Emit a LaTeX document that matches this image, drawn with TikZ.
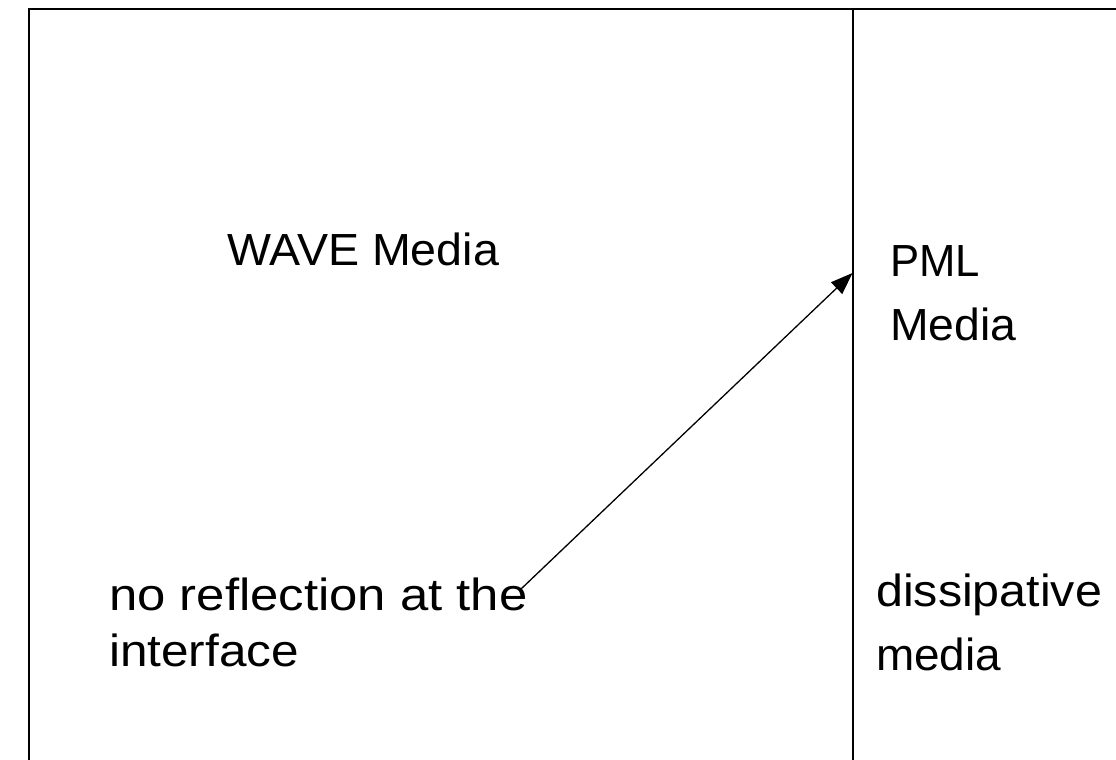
\documentclass[tikz,border=0pt]{standalone}
\usepackage{fontspec}
\usepackage{graphicx}
\setmainfont{Liberation Sans}
\usetikzlibrary{arrows.meta}
\newcommand{\sx}[2]{\scalebox{#1}[1]{#2}}
\tikzset{
  frame/.style={line width=2pt, black},
  divider/.style={line width=1.4pt, black},
  ray/.style={line width=1.3pt, black, -{Triangle[length=22pt,width=16pt]}},
  label/.style={anchor=base west, inner sep=0pt, align=left},
}
\begin{document}
\begin{tikzpicture}[x=1pt,y=-1pt]
\useasboundingbox (0,0) rectangle (1116,760);
\coordinate (bl) at (29.3,762);
\coordinate (tl) at (29.3,9.3);
\coordinate (tr) at (1118,9.3);
\coordinate (dt) at (853,9.3);
\coordinate (db) at (853,762);
\draw[frame] (bl) -- (tl) -- (tr);
\draw[divider] (dt) -- (db);
\node[label, font=\fontsize{45}{56}\selectfont] (wave) at (227,265) {\sx{1.035}{WAVE Media}};
\node[label, font=\fontsize{45}{63.3}\selectfont] (pml) at (890,340) {\sx{0.97}{PML}\\\sx{1.03}{Media}};
\node[label, font=\fontsize{45}{55.7}\selectfont] (nore) at (109,666) {\sx{1.13}{no reflection at the}\\\sx{1.10}{interface}};
\node[label, font=\fontsize{45}{63.3}\selectfont] (diss) at (876,670) {\sx{1.075}{dissipative}\\\sx{1.02}{media}};
\coordinate (start) at (521,589);
\coordinate (tip) at (852.5,273);
\draw[ray] (start) -- (tip);
\end{tikzpicture}
\end{document}
